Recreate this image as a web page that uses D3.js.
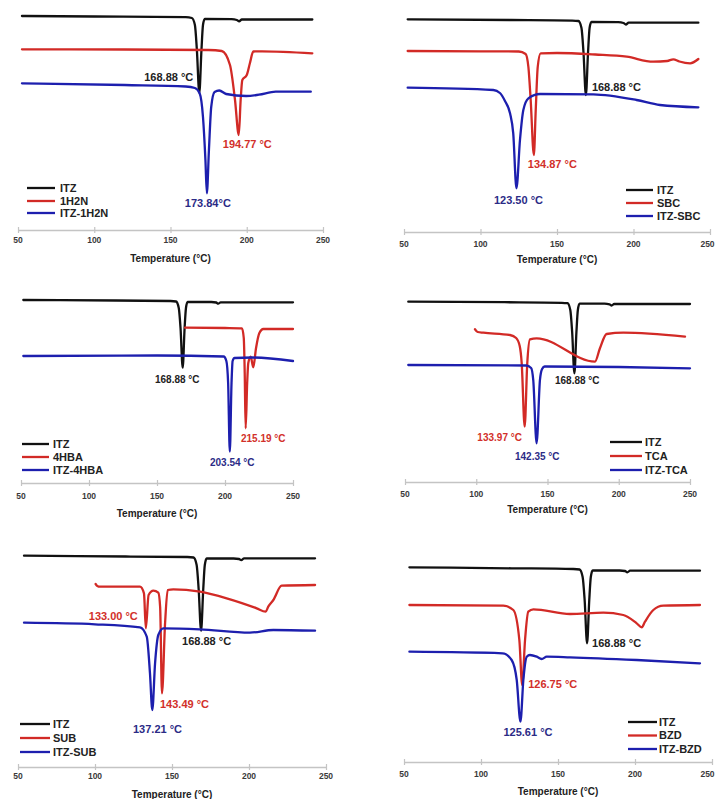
<!DOCTYPE html>
<html><head><meta charset="utf-8">
<script src="https://cdn.jsdelivr.net/npm/d3@7"></script>
<style>
body{margin:0;background:#fff;}
svg{display:block;font-family:"Liberation Sans",Arial,sans-serif;}
</style>
</head><body>
<svg id="chart" width="716" height="799"></svg>
<script>
// ---------- DATA (temperature °C, heat flow in arbitrary units, exo up) ----------
const xTicks = [50, 100, 150, 200, 250];
const xTitle = "Temperature (\u00B0C)";

// Panel 1: ITZ / 1H2N / ITZ-1H2N
const names1 = ["ITZ", "1H2N", "ITZ-1H2N"];
const itz1 = [[52.6,214],[100,213.5],[160,212.8],[164,212],[166,205],[167.3,180],[168.88,137],[170.3,180],[171.3,205],[172.5,211],[190,210.8],[193.5,210],[195,208.7],[196.8,210.5],[243,210.5]];
const co1  = [[52.6,180.7],[120,180.5],[175,180],[183.6,179],[189,165],[192.3,130],[194.77,95],[196,130],[197.1,150],[200,155],[202.1,167],[204.3,178.5],[210,178.7],[243,176.7]];
const mix1 = [[52.6,146.7],[120,145],[160,143.5],[166,142],[169.1,136.7],[171.3,113],[172.9,70],[173.84,36.7],[175.2,80],[176.7,123],[178.9,138],[182,139.5],[186.5,136],[199.6,134],[208,135.3],[219,138.3],[242,138.3]];
const peaks1 = [{s:0,t:168.88,label:"168.88 \u00B0C"},{s:1,t:194.77,label:"194.77 \u00B0C"},{s:2,t:173.84,label:"173.84\u00B0C"}];

// Panel 2: ITZ / SBC / ITZ-SBC
const names2 = ["ITZ", "SBC", "ITZ-SBC"];
const itz2 = [[52.4,212.7],[120,212],[160,211.4],[164,211],[166,204],[167.3,180],[168.88,137],[170.3,180],[171.3,204],[172.5,210],[190,209.8],[193.5,209],[195,207.5],[196.8,209.3],[242.4,209.3]];
const co2  = [[52.4,181],[100,180.7],[125,180.5],[129.5,178],[131.3,165],[132.8,132],[134.87,77],[136.1,122],[137.4,165],[139.3,178.7],[150,179],[175,177.5],[195.6,175.3],[212.9,170.3],[222,171],[226,172.7],[230,170.5],[237,168.7],[242.4,173]];
const mix2 = [[52.4,144.3],[108.4,142],[112.7,139],[116,131],[119.3,118.7],[121.4,98.7],[123.5,43.7],[125.8,92],[128,122],[131.3,133.7],[138.9,138],[173.7,137.7],[202,132],[217.3,127],[242.4,124.7]];
const peaks2 = [{s:0,t:168.88,label:"168.88 \u00B0C"},{s:1,t:134.87,label:"134.87 \u00B0C"},{s:2,t:123.50,label:"123.50 \u00B0C"}];

// Panel 3: ITZ / 4HBA / ITZ-4HBA
const names3 = ["ITZ", "4HBA", "ITZ-4HBA"];
const itz3 = [[51.7,183],[120,182.5],[160,182],[164,181.5],[166,175],[167.3,155],[168.88,115.3],[170.3,155],[171.3,175],[172.5,181],[190,181],[193.5,180.5],[195,179.3],[196.8,180.7],[250,180.7]];
const co3  = [[170.6,155.3],[200,155],[212.5,154.7],[213.8,145],[214.5,110],[215.19,54.7],[216.3,100],[217.1,119.7],[218.9,126.3],[220.8,115.7],[222.8,134.7],[225.2,149.7],[228.2,154],[250,154]];
const mix3 = [[51.7,127],[150,127.5],[199,126.5],[201,122],[202.3,100],[203.54,31.3],[204.8,100],[205.6,122],[207,125],[220,125.5],[250,122]];
const peaks3 = [{s:0,t:168.88,label:"168.88 \u00B0C"},{s:1,t:215.19,label:"215.19 \u00B0C"},{s:2,t:203.54,label:"203.54 \u00B0C"}];

// Panel 4: ITZ / TCA / ITZ-TCA
const names4 = ["ITZ", "TCA", "ITZ-TCA"];
const itz4 = [[52.3,180.3],[120,179.8],[160,179.2],[164,178.8],[166,172],[167.3,150],[168.88,108.7],[170.3,150],[171.3,172],[172.5,178.3],[190,178.3],[193.5,177.7],[195,176.5],[196.8,178],[250,178]];
const co4  = [[99.1,152.7],[101,150],[105,149.3],[123.7,147],[128,144],[130.5,136],[131.9,118.7],[133.97,55.3],[135.8,118.7],[137.7,142.7],[142.4,143.7],[183.3,120.3],[186.8,133.7],[191.5,148],[203.2,149.3],[246.5,145.3]];
const mix4 = [[52.3,117],[135,116.5],[138.5,114],[140,102],[142.35,38.7],[144.7,102],[146.2,113],[148,115.5],[200,115],[250,113.7]];
const peaks4 = [{s:0,t:168.88,label:"168.88 \u00B0C"},{s:1,t:133.97,label:"133.97 \u00B0C"},{s:2,t:142.35,label:"142.35 \u00B0C"}];

// Panel 5: ITZ / SUB / ITZ-SUB
const names5 = ["ITZ", "SUB", "ITZ-SUB"];
const itz5 = [[53.9,211.3],[120,210.5],[160,210],[164,209.5],[166,202],[167.3,178],[168.88,136.3],[170.3,178],[171.3,202],[172.5,208.5],[190,208.5],[193.5,208],[195,206.8],[196.8,208.7],[242.9,208.7]];
const co5  = [[100.4,183],[101.5,181],[103.2,180.3],[129.2,180.3],[131.8,173.7],[133.0,138.7],[134.8,172],[137.9,176.3],[141.1,174.3],[142.3,160],[143.49,73.7],[145.5,143.7],[147.2,177],[150.9,177.7],[168.2,175.3],[185.5,168.7],[205,158.7],[210.8,155.3],[212.5,160.3],[215.8,167],[221.2,181.3],[242.9,182]];
const mix5 = [[53.9,144.3],[100,142.7],[129.2,139.7],[133.6,130.3],[135.7,93.7],[137.21,57],[139,103.7],[141.1,132],[144.4,138.7],[168,137.7],[200.6,134.3],[215.8,137],[242.9,136.3]];
const peaks5 = [{s:1,t:133.00,label:"133.00 \u00B0C"},{s:0,t:168.88,label:"168.88 \u00B0C"},{s:1,t:143.49,label:"143.49 \u00B0C"},{s:2,t:137.21,label:"137.21 \u00B0C"}];

// Panel 6: ITZ / BZD / ITZ-BZD
const names6 = ["ITZ", "BZD", "ITZ-BZD"];
const itz6 = [[53.5,194.7],[120,193.7],[160,193],[164,192.5],[166,185],[167.3,162],[168.88,118.7],[170.3,162],[171.3,185],[172.5,191.5],[190,191.5],[193.5,191],[195,189.7],[196.8,191.3],[242.2,191.3]];
const co6  = [[53.5,157],[114.5,156.3],[121,152],[124.9,122],[126.75,77],[128.6,122],[130.7,150.3],[134,152.7],[157.8,148],[179.4,149.3],[192.4,147],[201.1,138.7],[204.4,134.7],[206.5,140.3],[211.9,152],[218.4,156.3],[242.2,157]];
const mix6 = [[53.5,110.3],[114,108.7],[119.9,102],[123.2,82],[125.61,40.3],[127.5,82],[129.7,105.3],[131.8,107],[136.2,105.3],[139.4,103],[142.7,105.3],[157.8,104.7],[201.1,102],[242.2,98.7]];
const peaks6 = [{s:0,t:168.88,label:"168.88 \u00B0C"},{s:1,t:126.75,label:"126.75 \u00B0C"},{s:2,t:125.61,label:"125.61 \u00B0C"}];

// ---------- LAYOUT / STYLE ----------
const lineColors  = ["#111111", "#d22a26", "#1d1fae"];
const labelColors = ["#222222", "#d2302a", "#2b2b86"];
const W = 716;

const panels = [
  {names:names1, series:[itz1,co1,mix1], peaks:peaks1, x0:18, x1:323, axisY:230, fs:11,
   off:[{dx:-6,dy:-12,a:"end"},{dx:-16,dy:13,a:"start"},{dx:-22,dy:14,a:"start"}],
   leg:{x1:27,x2:55,tx:60,ys:[188,201,213]}, tickY:243, titleY:262},
  {names:names2, series:[itz2,co2,mix2], peaks:peaks2, x0:404, x1:710, axisY:232, fs:11,
   off:[{dx:6,dy:-4,a:"start"},{dx:-6,dy:13,a:"start"},{dx:-22.5,dy:16,a:"start"}],
   leg:{x1:626,x2:653,tx:657,ys:[190,203,216]}, tickY:247, titleY:263},
  {names:names3, series:[itz3,co3,mix3], peaks:peaks3, x0:21, x1:293, axisY:483, fs:10,
   off:[{dx:-27.7,dy:15,a:"start"},{dx:-4.7,dy:14,a:"start"},{dx:-19.8,dy:14,a:"start"}],
   leg:{x1:22,x2:49,tx:53,ys:[444,457,470]}, tickY:499, titleY:517},
  {names:names4, series:[itz4,co4,mix4], peaks:peaks4, x0:405, x1:690, axisY:482, fs:10,
   off:[{dx:-19.4,dy:11,a:"start"},{dx:-2.7,dy:14,a:"end"},{dx:-21.6,dy:17,a:"start"}],
   leg:{x1:610,x2:642,tx:645,ys:[442,456,470]}, tickY:497, titleY:513},
  {names:names5, series:[itz5,co5,mix5], peaks:peaks5, x0:18, x1:326, axisY:767, fs:11,
   off:[{dx:-8,dy:-8,a:"end"},{dx:-19,dy:14,a:"start"},{dx:-2,dy:15,a:"start"},{dx:-19.3,dy:23,a:"start"}],
   leg:{x1:20,x2:50,tx:53,ys:[724,738,752]}, tickY:779, titleY:798},
  {names:names6, series:[itz6,co6,mix6], peaks:peaks6, x0:404, x1:712, axisY:762, fs:11,
   off:[{dx:5,dy:4,a:"start"},{dx:6,dy:3,a:"start"},{dx:-17,dy:14,a:"start"}],
   leg:{x1:628,x2:657,tx:659,ys:[722,735.5,749]}, tickY:777, titleY:795}
];

const svg = d3.select("#chart");

panels.forEach(p => {
  const g = svg.append("g");
  const x = d3.scaleLinear().domain([50, 250]).range([p.x0, p.x1]);
  const y = d3.scaleLinear().domain([0, 200]).range([p.axisY, p.axisY - 200]);

  // axis
  const ax = g.append("g").attr("transform", `translate(0,${p.axisY})`)
    .call(d3.axisBottom(x).tickValues(xTicks).tickSize(0).tickFormat(""));
  ax.select(".domain").attr("stroke", "#c4c4c4").attr("stroke-width", 1.3);
  ax.selectAll(".tick line").remove();
  ax.selectAll(".tick").append("line").attr("y1", -3).attr("y2", 3)
    .attr("stroke", "#c4c4c4").attr("stroke-width", 1.2);

  g.selectAll("text.tk").data(xTicks).join("text").attr("class","tk")
    .attr("x", d => Math.min(x(d), W - 8.5)).attr("y", p.tickY).attr("text-anchor","middle")
    .attr("font-size", 8.5).attr("font-weight","bold").attr("fill","#3a3a3a").text(d => d);

  g.append("text").attr("x", (p.x0 + p.x1) / 2).attr("y", p.titleY)
    .attr("text-anchor","middle").attr("font-size", 10).attr("font-weight","bold")
    .attr("fill","#222").text(xTitle);

  // curves
  const line = d3.line().x(d => x(d[0])).y(d => y(d[1])).curve(d3.curveMonotoneX);
  p.series.forEach((s, i) => {
    g.append("path").datum(s).attr("d", line).attr("fill","none")
      .attr("stroke", lineColors[i]).attr("stroke-width", 2.3)
      .attr("stroke-linejoin","round").attr("stroke-linecap","round");
  });

  // peak labels
  p.peaks.forEach((pk, k) => {
    const s = p.series[pk.s];
    const pt = s.reduce((m, d) => Math.abs(d[0] - pk.t) < Math.abs(m[0] - pk.t) ? d : m);
    const o = p.off[k];
    g.append("text").attr("x", x(pt[0]) + o.dx).attr("y", y(pt[1]) + o.dy)
      .attr("text-anchor", o.a).attr("font-size", p.fs).attr("font-weight","bold")
      .attr("fill", labelColors[pk.s]).text(pk.label);
  });

  // legend
  p.names.forEach((n, i) => {
    const yy = p.leg.ys[i];
    g.append("line").attr("x1", p.leg.x1).attr("x2", p.leg.x2).attr("y1", yy).attr("y2", yy)
      .attr("stroke", lineColors[i]).attr("stroke-width", 2.3);
    g.append("text").attr("x", p.leg.tx).attr("y", yy + 3.8)
      .attr("font-size", 11).attr("font-weight","bold").attr("fill","#222").text(n);
  });
});
</script>
</body></html>
